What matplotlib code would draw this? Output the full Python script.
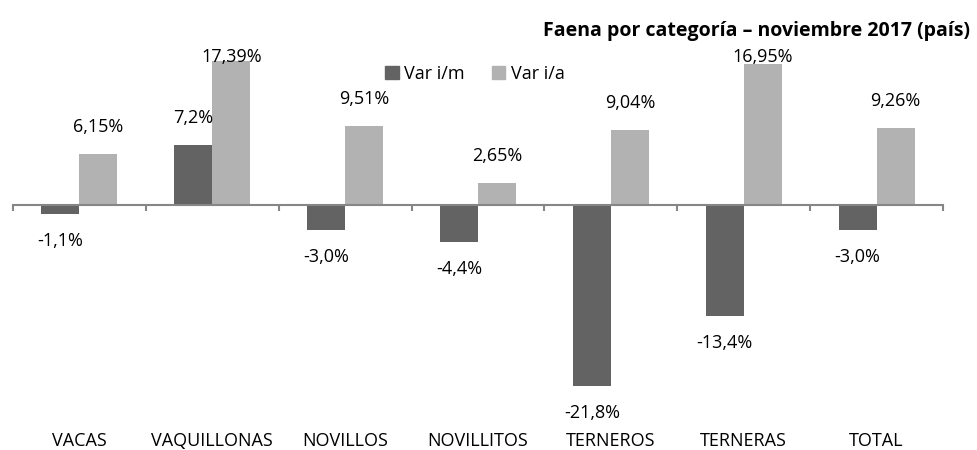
import matplotlib
matplotlib.use("Agg")
import matplotlib.pyplot as plt
from matplotlib.patches import Patch
from matplotlib.transforms import blended_transform_factory
import numpy as np

plt.rcParams['font.family'] = ['Open Sans', 'DejaVu Sans']

categories = ["VACAS", "VAQUILLONAS", "NOVILLOS", "NOVILLITOS", "TERNEROS", "TERNERAS", "TOTAL"]
var_im = [-1.1, 7.2, -3.0, -4.4, -21.8, -13.4, -3.0]
var_ia = [6.15, 17.39, 9.51, 2.65, 9.04, 16.95, 9.26]
im_labels = ["-1,1%", "7,2%", "-3,0%", "-4,4%", "-21,8%", "-13,4%", "-3,0%"]
ia_labels = ["6,15%", "17,39%", "9,51%", "2,65%", "9,04%", "16,95%", "9,26%"]
series_names = ["Var i/m", "Var i/a"]
title = "Faena por categoría – noviembre 2017 (país)"

dark = "#636363"
light = "#b2b2b2"
axis_col = "#868686"

W, H = 977, 450
fig = plt.figure(figsize=(W / 100, H / 100), dpi=100)
top_px, bot_px = 47.3, 420.8
left_px, right_px = 13, 943
ax = fig.add_axes([left_px / W, 1 - bot_px / H, (right_px - left_px) / W, (bot_px - top_px) / H])

ymin, ymax = -26, 19
ax.set_xlim(-0.5, len(categories) - 0.5)
ax.set_ylim(ymin, ymax)

x = np.arange(len(categories))
bw = 0.286
ax.bar(x - bw / 2, var_im, width=bw, color=dark, zorder=2)
ax.bar(x + bw / 2, var_ia, width=bw, color=light, zorder=2)

px_per_unit = (bot_px - top_px) / (ymax - ymin)

# value labels
def put_labels(xs, vals, labels):
    for xi, v, lab in zip(xs, vals, labels):
        if v >= 0:
            pad_data = 17 / px_per_unit
            txt_h = 14 / px_per_unit
            yb = v + pad_data
            if yb + txt_h > ymax:
                ax.text(xi, ymax - 0.1, lab, ha='center', va='top', fontsize=13, color='black')
            else:
                ax.annotate(lab, (xi, v), xytext=(0, 13), textcoords='offset points',
                            ha='center', va='bottom', fontsize=13, color='black')
        else:
            ax.annotate(lab, (xi, v), xytext=(0, -13), textcoords='offset points',
                        ha='center', va='top', fontsize=13, color='black')

put_labels(x - bw / 2, var_im, im_labels)
put_labels(x + bw / 2, var_ia, ia_labels)

# axis styling
for s in ['top', 'right', 'left']:
    ax.spines[s].set_visible(False)
ax.spines['bottom'].set_position(('data', 0))
ax.spines['bottom'].set_color(axis_col)
ax.spines['bottom'].set_linewidth(1.5)
ax.set_yticks([])
ax.set_xticks(np.arange(len(categories) + 1) - 0.5)
ax.set_xticklabels([])
ax.tick_params(axis='x', direction='out', length=4, width=1.5, color=axis_col)

trans = blended_transform_factory(ax.transData, ax.transAxes)
for xi, c in zip(x, categories):
    ax.text(xi, -20 / (bot_px - top_px), c, transform=trans, ha='center', va='center',
            fontsize=13, color='black')

# legend
handles = [Patch(color=dark, label=series_names[0]), Patch(color=light, label=series_names[1])]
fig.legend(handles=handles, loc='center', bbox_to_anchor=(475 / W, 1 - 74 / H), ncol=2,
           frameon=False, fontsize=13, handlelength=0.75, handleheight=0.75,
           handletextpad=0.3, columnspacing=1.5)

fig.text(970 / W, 1 - 31 / H, title, ha='right', va='center', fontsize=14, fontweight='bold')

fig.savefig("out.png", dpi=100)
